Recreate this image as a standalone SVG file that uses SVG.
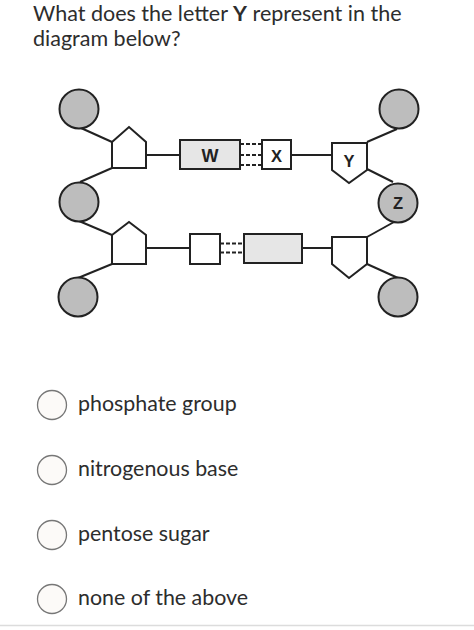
<svg xmlns="http://www.w3.org/2000/svg" width="474" height="630" viewBox="0 0 474 630">
<style>
.t{font-family:Lato,"Open Sans",sans-serif;fill:#2d2d2d}
.q{font-size:21.5px}
.o{font-size:21.4px}
.ph{fill:#bdbdbd;stroke:#222;stroke-width:2}
.sh{fill:#fff;stroke:#222;stroke-width:2;stroke-linejoin:miter}
.gb{fill:#e6e6e6;stroke:#222;stroke-width:2}
.ln{stroke:#222;stroke-width:2;fill:none}
.hb{stroke:#222;stroke-width:2;stroke-dasharray:4 2;fill:none}
.lb{font-family:"Liberation Sans",Arial,sans-serif;font-weight:bold;font-size:16.5px;fill:#222;text-anchor:middle}
.rb{fill:#fcfaf8;stroke:#777;stroke-width:1.3}
</style>
<rect width="474" height="630" fill="#fff"/>
<text class="t q" x="33" y="21">What does the letter <tspan font-weight="bold">Y</tspan> represent in the</text>
<text class="t q" x="33" y="46">diagram below?</text>

<g id="connectors">
<line class="ln" x1="81" y1="128" x2="112" y2="142"/>
<line class="ln" x1="112" y1="168" x2="80" y2="182"/>
<line class="ln" x1="146" y1="155" x2="180" y2="155"/>
<line class="hb" x1="240" y1="144" x2="262" y2="144"/>
<line class="hb" x1="240" y1="155" x2="262" y2="155"/>
<line class="hb" x1="240" y1="165" x2="262" y2="165"/>
<line class="ln" x1="291" y1="155" x2="332" y2="155"/>
<line class="ln" x1="367" y1="142" x2="397" y2="129"/>
<line class="ln" x1="367" y1="169" x2="393" y2="182"/>
<line class="ln" x1="79" y1="221" x2="112" y2="235"/>
<line class="ln" x1="112" y1="264" x2="78" y2="278"/>
<line class="ln" x1="146" y1="248" x2="190" y2="248"/>
<line class="hb" x1="220" y1="243.5" x2="244" y2="243.5"/>
<line class="hb" x1="220" y1="252.5" x2="244" y2="252.5"/>
<line class="ln" x1="302" y1="248" x2="332" y2="248"/>
<line class="ln" x1="367" y1="237" x2="394" y2="222"/>
<line class="ln" x1="367" y1="264" x2="398" y2="278"/>
</g>

<g id="p1"><circle class="ph" cx="79" cy="109" r="19.5"/></g>
<g id="p2"><circle class="ph" cx="79" cy="202" r="19.5"/></g>
<g id="p3"><circle class="ph" cx="78" cy="297" r="19.5"/></g>
<g id="p4"><circle class="ph" cx="399" cy="109" r="19.5"/></g>
<g id="z"><circle class="ph" cx="398" cy="203" r="19.5"/><text class="lb" x="398" y="209">Z</text></g>
<g id="p6"><circle class="ph" cx="398" cy="297" r="19.5"/></g>

<g id="s1"><polygon class="sh" points="112,142 129,127 146,142 146,168 112,168"/></g>
<g id="s2"><polygon class="sh" points="112,235 129,222 146,235 146,264 112,264"/></g>
<g id="y"><polygon class="sh" points="332,143 367,143 367,170 349,183 332,170"/><text class="lb" x="349" y="167">Y</text></g>
<g id="s4"><polygon class="sh" points="332,237 367,237 367,264 349,278 332,264"/></g>

<g id="w"><rect class="gb" x="180" y="140" width="60" height="29"/><text class="lb" x="210" y="161.5" style="font-size:18px">W</text></g>
<g id="x"><rect class="sh" x="262" y="140" width="29" height="29"/><text class="lb" x="276.5" y="161.5">X</text></g>
<g id="b1"><rect class="sh" x="190" y="234" width="30" height="30"/></g>
<g id="b2"><rect class="gb" x="244" y="234" width="58" height="29"/></g>

<g id="opt1"><circle class="rb" cx="52" cy="405" r="14.5"/><text class="t o" x="78" y="411">phosphate group</text></g>
<g id="opt2"><circle class="rb" cx="52" cy="470" r="14.5"/><text class="t o" x="78" y="476">nitrogenous base</text></g>
<g id="opt3"><circle class="rb" cx="52" cy="535" r="14.5"/><text class="t o" x="78" y="541">pentose sugar</text></g>
<g id="opt4"><circle class="rb" cx="52" cy="599" r="14.5"/><text class="t o" x="78" y="605">none of the above</text></g>
<line x1="0" y1="625.5" x2="474" y2="625.5" stroke="#dcdcdc" stroke-width="1.5"/>
</svg>
